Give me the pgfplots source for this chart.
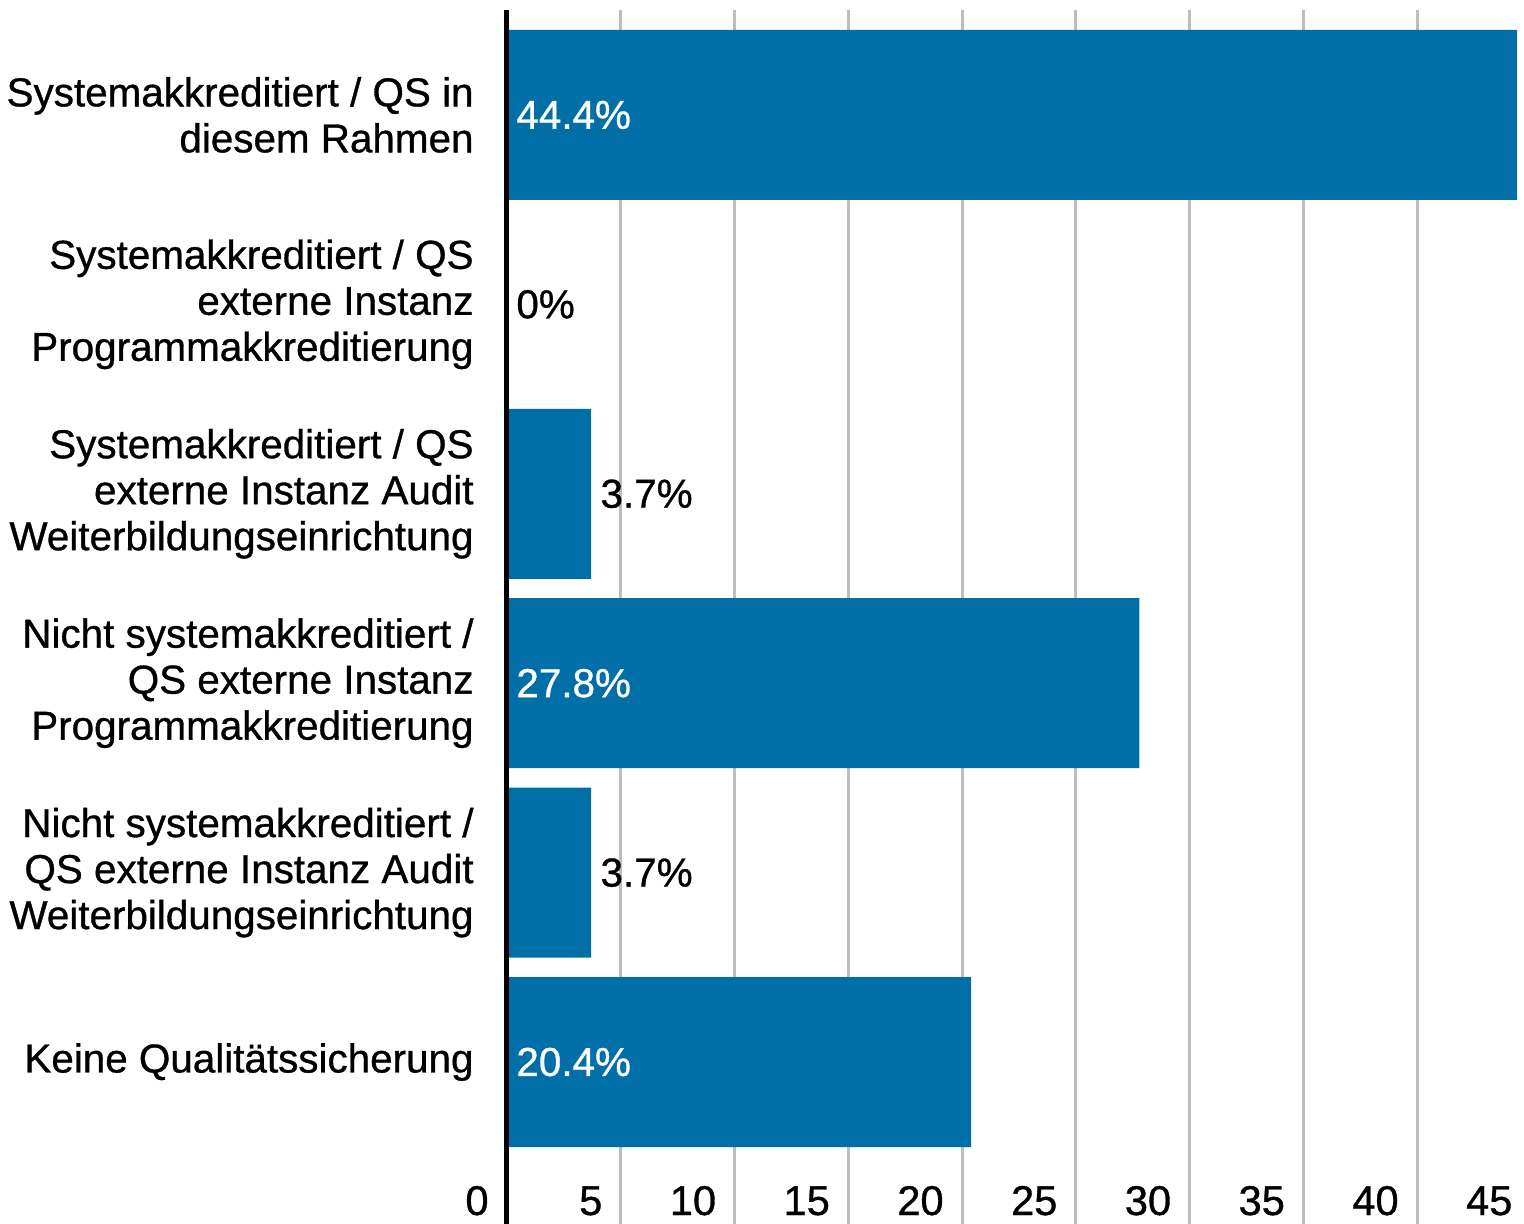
\documentclass[border=0pt]{standalone}
\usepackage{pgfplots}
\pgfplotsset{compat=1.18}
\usepackage{fontspec}
\setmainfont{Liberation Sans}[FakeBold=0.8]

\definecolor{barblue}{RGB}{0,111,168}
\definecolor{gridgray}{RGB}{190,190,190}

\begin{document}
\begin{tikzpicture}
\begin{axis}[
    at={(0,0)}, anchor=south west,
    scale only axis,
    width=511.9pt, height=607pt,
    xmin=0, xmax=45,
    ymin=-0.554, ymax=5.855,
    y dir=reverse,
    axis line style={draw=none},
    xtick={0,5,...,45},
    ytick={0,1,2,3,4,5},
    yticklabels={
        {Systemakkreditiert / QS in\\diesem Rahmen},
        {Systemakkreditiert / QS\\externe Instanz\\Programmakkreditierung},
        {Systemakkreditiert / QS\\externe Instanz Audit\\Weiterbildungseinrichtung},
        {Nicht systemakkreditiert /\\QS externe Instanz\\Programmakkreditierung},
        {Nicht systemakkreditiert /\\QS externe Instanz Audit\\Weiterbildungseinrichtung},
        {Keine Qualitätssicherung}
    },
    major tick length=0pt,
    xmajorgrids=true,
    grid style={gridgray, line width=1.5pt},
    tick label style={font=\fontsize{20.2}{23}\selectfont, black},
    xticklabel style={anchor=base east, inner sep=0pt, xshift=-9pt, yshift=4.5pt,
        font=\fontsize{20.8}{23}\selectfont},
    yticklabel style={anchor=east, align=right, inner sep=0pt, xshift=-16.5pt},
    /pgf/number format/assume math mode=true,
    clip=false,
]

% bars
\addplot[xbar, bar width=85pt, bar shift=0pt, fill=barblue, draw=none]
coordinates {(44.4,0) (0,1) (3.7,2) (27.8,3) (3.7,4) (20.4,5)};

% value labels: white inside long bars, black after short ones
\addplot[only marks, mark=none, nodes near coords, point meta=explicit symbolic,
    every node near coord/.append style={anchor=west, inner sep=0pt, xshift=4.5pt,
        font=\fontsize{20.2}{23}\selectfont}]
coordinates {
    (0,0) [\textcolor{white}{44.4\%}]
    (0,1) [0\%]
    (3.7,2) [3.7\%]
    (0,3) [\textcolor{white}{27.8\%}]
    (3.7,4) [3.7\%]
    (0,5) [\textcolor{white}{20.4\%}]
};

\draw[black, line width=2.5pt] (axis cs:0,-0.554) -- (axis cs:0,5.855);
\end{axis}
\pgfresetboundingbox
\path[use as bounding box] (-253.5pt,0pt) rectangle (508.5pt,612pt);
\end{tikzpicture}
\end{document}
